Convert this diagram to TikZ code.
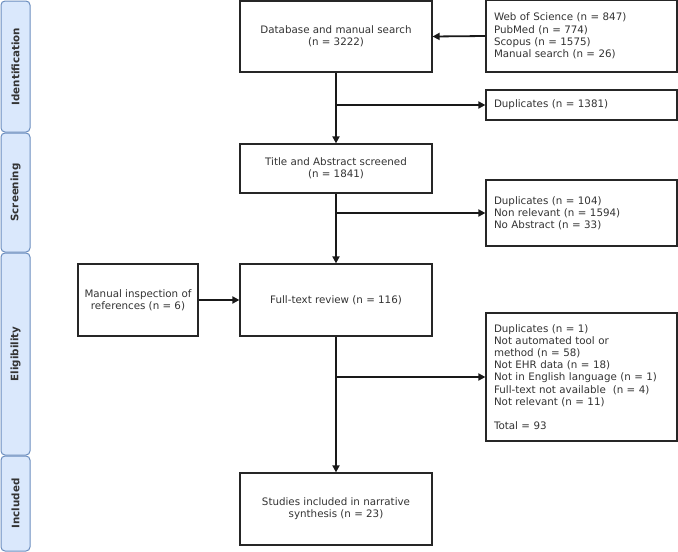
\documentclass[tikz,border=0pt]{standalone}
\usepackage{fontspec}
\setmainfont{DejaVu Sans}
\usetikzlibrary{arrows.meta}
\definecolor{bandfill}{HTML}{DAE8FC}
\definecolor{bandline}{HTML}{6C8EBF}
\definecolor{txt}{HTML}{333333}
\begin{document}
\begin{tikzpicture}[x=1pt,y=-1pt,
    box/.style={draw=black!85,line width=1.2pt,fill=white,inner sep=0pt,align=center,text=txt,
      font=\fontsize{10.3}{12.2}\selectfont},
    listbox/.style={box,align=left,text width=#1,inner xsep=0pt},
    band/.style={draw=bandline,fill=bandfill,line width=1pt,rounded corners=4pt,rotate=90,
      minimum height=29pt,inner sep=0pt,text=txt,font=\fontsize{10.3}{12}\selectfont\bfseries},
    arr/.style={line width=1.8pt,draw=black!90,-{Triangle[length=7pt,width=7pt]}}]

        \useasboundingbox (0,0) rectangle (678,552);

        \begin{scope}[every node/.style={band}]
          \node (ident) at (15.5,66.5)  [minimum width=131pt] {Identification};
          \node (screen) at (15.5,192.5) [minimum width=119pt] {Screening};
          \node (elig) at (15.5,354)    [minimum width=202pt] {Eligibility};
          \node (incl) at (15.5,503.5)  [minimum width=95pt]  {Included};
        \end{scope}

        \begin{scope}[every node/.style={box,minimum width=192pt}]
          \node (db)  at (336,36.5)  [minimum height=71pt] {Database and manual search\\(n = 3222)};
          \node (tas) at (336,168.5) [minimum height=49pt] {Title and Abstract screened\\(n = 1841)};
          \node (ftr) at (336,300)   [minimum height=72pt] {Full-text review (n = 116)};
          \node (inc) at (336,509)   [minimum height=72pt] {Studies included in narrative\\synthesis (n = 23)};
        \end{scope}

        \node[box,minimum width=120pt,minimum height=72pt] (man) at (138,300)
          {Manual inspection of\\references (n = 6)};

        \begin{scope}[every node/.style={listbox=175pt,minimum width=191pt}]
          \node (src)  at (581.5,36)  [minimum height=72pt]
            {Web of Science (n = 847)\\PubMed (n = 774)\\Scopus (n = 1575)\\Manual search (n = 26)};
          \node (dup1) at (581.5,105) [minimum height=30pt] {Duplicates (n = 1381)};
          \node (dup2) at (581.5,213) [minimum height=66pt]
            {Duplicates (n = 104)\\Non relevant (n = 1594)\\No Abstract (n = 33)};
          \node (excl) at (581.5,377) [minimum height=128pt]
            {Duplicates (n = 1)\\Not automated tool or\\method (n = 58)\\Not EHR data (n = 18)\\
             Not in English language (n = 1)\\Full-text not available\ \ (n = 4)\\Not relevant (n = 11)\\[12.2pt]
             Total = 93};
        \end{scope}

        \coordinate (b1) at (db.south |- dup1.west);
        \coordinate (b2) at (tas.south |- dup2.west);
        \coordinate (b3) at (ftr.south |- excl.west);

        \begin{scope}[every edge/.style={arr}]
          \path (src.west) edge (db.east);
          \path (db.south) edge (tas.north);
          \path (tas.south) edge (ftr.north);
          \path (ftr.south) edge (inc.north);
          \path (man.east) edge (ftr.west);
          \path (b1) edge (dup1.west);
          \path (b2) edge (dup2.west);
          \path (b3) edge (excl.west);
        \end{scope}

      \end{tikzpicture}
\end{document}
